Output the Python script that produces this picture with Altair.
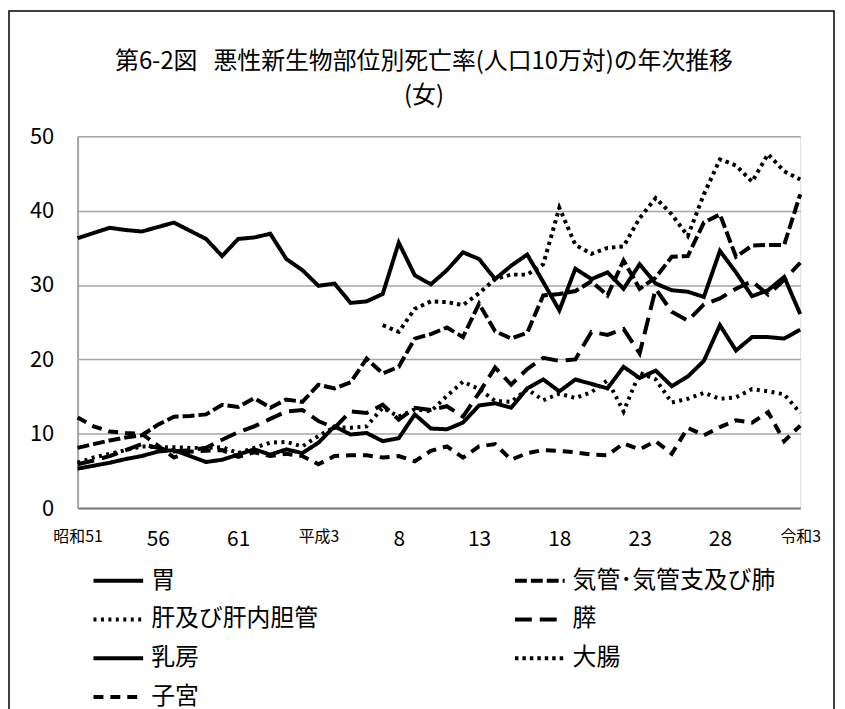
import altair as alt
import pandas as pd

# ---- data ----
years = list(range(1976, 2022))  # 昭和51 .. 令和3

series_names = ["胃", "気管･気管支及び肺", "肝及び肝内胆管", "膵", "乳房", "大腸", "子宮"]

stomach = [36.3, 37.0, 37.7, 37.4, 37.2, 37.8, 38.4, 37.3, 36.2, 33.9,
           36.2, 36.4, 36.9, 33.5, 32.0, 29.9, 30.2, 27.6, 27.8, 28.8,
           35.7, 31.3, 30.1, 32.0, 34.4, 33.5, 30.8, 32.6, 34.1, 30.4,
           26.6, 32.2, 30.8, 31.7, 29.5, 32.8, 30.2, 29.3, 29.1, 28.4,
           34.6, 31.7, 28.5, 29.3, 31.1, 26.1]
lung = [8.1, 8.6, 9.1, 9.5, 9.8, 11.2, 12.3, 12.4, 12.6, 13.9,
        13.6, 14.8, 13.5, 14.6, 14.3, 16.6, 16.1, 16.9, 20.1, 18.1,
        19.0, 22.8, 23.4, 24.3, 23.0, 27.5, 23.8, 22.8, 23.6, 28.6,
        28.8, 29.2, 30.5, 28.6, 33.3, 29.5, 31.0, 33.8, 33.9, 38.4,
        39.5, 33.8, 35.3, 35.4, 35.4, 42.2]
liver = [6.1, 6.8, 7.3, 7.8, 8.3, 8.2, 8.2, 8.1, 8.1, 8.2,
         7.4, 8.1, 8.8, 8.9, 8.3, 9.7, 10.9, 10.8, 11.0, 13.5,
         12.3, 13.3, 13.0, 15.1, 17.0, 16.0, 14.4, 14.3, 16.0, 14.5,
         15.4, 14.8, 15.6, 17.2, 13.0, 18.2, 17.3, 14.2, 14.7, 15.5,
         14.7, 14.9, 16.0, 15.7, 15.3, 12.8]
pancreas = [5.9, 6.4, 7.0, 7.8, 8.6, 8.1, 7.6, 7.8, 8.1, 9.2,
            10.2, 11.0, 12.0, 13.0, 13.2, 11.7, 10.8, 13.0, 12.8, 13.9,
            11.9, 13.5, 13.2, 13.7, 12.3, 15.5, 18.9, 16.6, 18.7, 20.2,
            19.8, 20.0, 23.7, 23.3, 24.1, 20.8, 29.5, 26.4, 25.2, 27.4,
            28.2, 29.5, 30.5, 28.7, 30.7, 33.0]
breast = [5.3, 5.7, 6.1, 6.6, 7.0, 7.6, 7.8, 7.0, 6.2, 6.5,
          7.2, 7.9, 7.2, 7.9, 7.4, 8.8, 11.0, 9.9, 10.1, 9.0,
          9.4, 12.6, 10.7, 10.6, 11.5, 13.8, 14.1, 13.5, 16.1, 17.3,
          15.7, 17.3, 16.7, 16.1, 19.0, 17.5, 18.5, 16.4, 17.7, 19.8,
          24.6, 21.2, 23.0, 23.0, 22.8, 24.0]
colon = [None] * 19 + [24.6, 23.7, 26.8, 27.8, 27.7, 27.3, 28.9, 30.8, 31.4, 31.4,
                       32.8, 40.4, 35.4, 34.2, 35.0, 35.2, 39.0, 41.7, 39.5, 36.6,
                       42.2, 46.9, 46.1, 43.9, 47.6, 45.3, 44.2]
uterus = [12.2, 11.0, 10.3, 10.1, 10.0, 8.4, 6.8, 7.6, 7.7, 7.8,
          6.9, 7.5, 7.0, 7.3, 7.0, 5.9, 7.0, 7.1, 7.1, 6.8,
          7.0, 6.3, 7.7, 8.3, 6.8, 8.3, 8.6, 6.5, 7.4, 7.8,
          7.7, 7.5, 7.2, 7.1, 8.7, 7.9, 9.0, 7.3, 10.8, 9.8,
          10.9, 11.8, 11.5, 12.9, 9.0, 11.1]

tick_years = [1976, 1981, 1986, 1991, 1996, 2001, 2006, 2011, 2016, 2021]
tick_labels = ["昭和51", "56", "61", "平成3", "8", "13", "18", "23", "28", "令和3"]

title_lines = ["第6-2図\u00a0\u00a0\u00a0悪性新生物部位別死亡率(人口10万対)の年次推移", "(女)"]

# ---- build table ----
all_values = [stomach, lung, liver, pancreas, breast, colon, uterus]
rows = []
for name, vals in zip(series_names, all_values):
    for y, v in zip(years, vals):
        if v is not None:
            rows.append({"year": y, "rate": v, "series": name})
df = pd.DataFrame(rows)

FONT = "Noto Sans CJK JP"

dash_range = [[1, 0], [12, 4], [3, 4.5], [17, 8], [1, 0], [3.5, 4], [10, 7]]
width_range = [4, 4, 3, 4, 2, 4, 2.5]

label_expr = " : ".join(
    f"datum.value == {y} ? '{t}'" for y, t in zip(tick_years, tick_labels)
) + " : ''"
era_test = " || ".join(f"datum.value == {y}" for y in (1976, 1991, 2021))

W, H = 727, 374

legend_kw = dict(
    title=None,
    orient="none",
    direction="horizontal",
    legendX=14,
    legendY=420,
    columns=2,
    columnPadding=190,
    rowPadding=-20,
    labelFontSize=24,
    labelFont=FONT,
    labelColor="black",
    labelLimit=400,
    labelOffset=6,
    symbolType="stroke",
    symbolSize=2500,
    symbolStrokeColor="black",
)

lines = alt.Chart(df).mark_line(color="black").encode(
    x=alt.X(
        "year:Q",
        scale=alt.Scale(domain=[1976, 2021], nice=False, zero=False),
        axis=alt.Axis(
            title=None,
            values=tick_years,
            labelExpr=label_expr,
            labelFontSize={"condition": {"test": era_test, "value": 16}, "value": 21},
            labelFont=FONT,
            labelColor="black",
            labelFlush=False,
            labelOverlap=False,
            labelPadding=21,
            ticks=False,
            grid=False,
            domainColor="#7f7f7f",
            domainWidth=2,
        ),
    ),
    y=alt.Y(
        "rate:Q",
        scale=alt.Scale(domain=[0, 50], nice=False),
        axis=alt.Axis(
            title=None,
            values=[0, 10, 20, 30, 40, 50],
            labelFontSize=22,
            labelFont=FONT,
            labelColor="black",
            labelPadding=24,
            ticks=False,
            grid=True,
            gridColor="#a6a6a6",
            gridWidth=1.5,
            domainColor="#a6a6a6",
            domainWidth=2,
        ),
    ),
    detail="series:N",
    strokeDash=alt.StrokeDash(
        "series:N",
        scale=alt.Scale(domain=series_names, range=dash_range),
        sort=series_names,
        legend=alt.Legend(**legend_kw),
    ),
    strokeWidth=alt.StrokeWidth(
        "series:N",
        scale=alt.Scale(domain=series_names, range=width_range),
        sort=series_names,
        legend=alt.Legend(**legend_kw),
    ),
)

frame = alt.Chart(alt.Data(values=[{"k": 1}])).mark_rect(
    fill=None, stroke="black", strokeWidth=1.5
).encode(
    x=alt.value(-69), x2=alt.value(W + 34),
    y=alt.value(-126), y2=alt.value(H + 300),
)

chart = alt.layer(frame, lines).properties(
    width=W,
    height=H,
    padding={"left": 70, "top": 127, "right": 37, "bottom": 200},
    autosize=alt.AutoSizeParams(type="none"),
    title=alt.TitleParams(
        title_lines,
        fontSize=24,
        font=FONT,
        fontWeight="normal",
        color="black",
        lineHeight=34,
        anchor="middle",
        offset=22,
        dy=120,
        dx=-15,
    ),
).configure_view(
    stroke="#a6a6a6", strokeWidth=1.5
).configure(background="white")

chart.save("out.html", embed_options={"renderer": "svg", "actions": False})
